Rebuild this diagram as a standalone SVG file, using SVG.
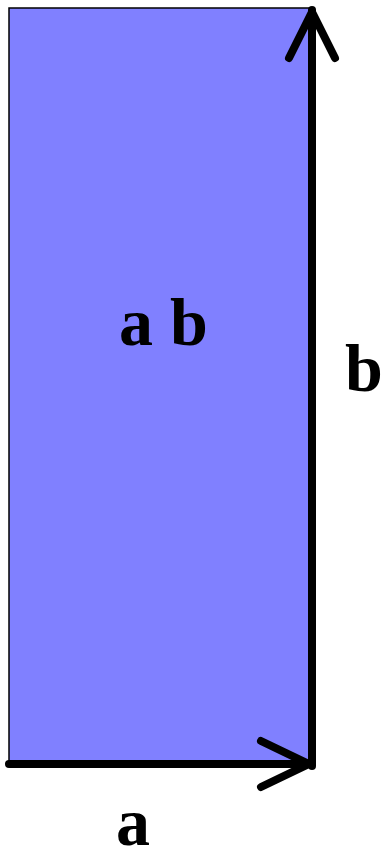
<svg xmlns="http://www.w3.org/2000/svg" width="381" height="850" viewBox="0 0 381 850">
<style>
.lbl{font-family:"Liberation Serif",serif;font-weight:bold;font-size:68px;fill:#000}
.arr{stroke:#000;stroke-width:8;fill:none;stroke-linecap:round;stroke-linejoin:round}
</style>
<g id="area">
<rect x="9" y="8" width="303" height="755" fill="#8080ff" stroke="#000" stroke-width="1.5"/>
<text class="lbl" x="119" y="345">a b</text>
</g>
<g id="connectors">
<path class="arr" d="M9 764 H310" stroke-linecap="butt"/>
<path class="arr" d="M261 741 L309 764 L261 787"/>
<path class="arr" d="M312 766 V10" stroke-linecap="butt"/>
<path class="arr" d="M289 58 L312 12 L335 58"/>
</g>
<g id="label-a"><text class="lbl" x="116" y="845">a</text></g>
<g id="label-b"><text class="lbl" x="345" y="391">b</text></g>
</svg>
